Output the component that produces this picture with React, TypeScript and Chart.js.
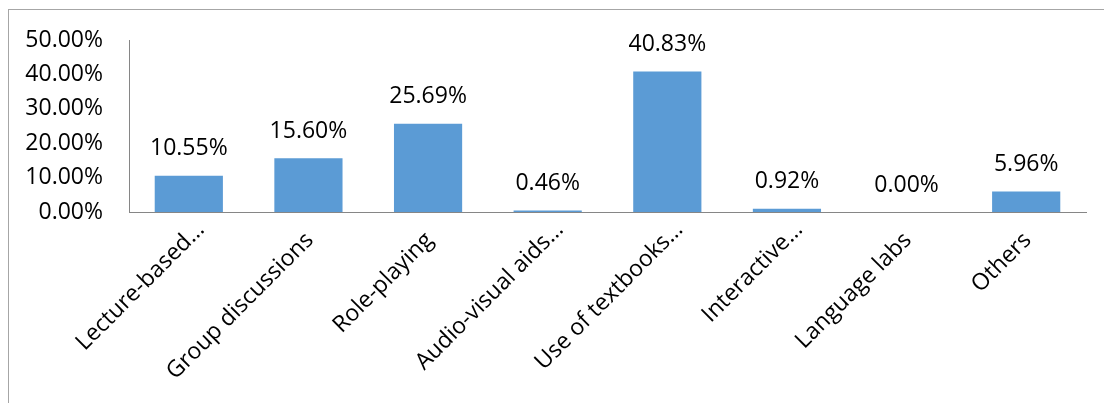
import React, { useEffect, useRef } from "react";
import { Chart, registerables } from "chart.js";

Chart.register(...registerables);

const categories = [
  "Lecture-based…",
  "Group discussions",
  "Role-playing",
  "Audio-visual aids…",
  "Use of textbooks…",
  "Interactive…",
  "Language labs",
  "Others",
];
const percentages = [10.55, 15.6, 25.69, 0.46, 40.83, 0.92, 0.0, 5.96];
const yMax = 50;
const yStep = 10;

const FONT = "'Open Sans', 'Noto Sans', sans-serif";
const FS = 23;

const valueLabels = {
  id: "valueLabels",
  afterDatasetsDraw(chart: any) {
    const ctx = chart.ctx;
    const meta = chart.getDatasetMeta(0);
    ctx.save();
    ctx.font = `${FS}px ${FONT}`;
    ctx.fillStyle = "#000000";
    ctx.textAlign = "center";
    ctx.textBaseline = "middle";
    meta.data.forEach((el: any, i: number) => {
      ctx.fillText(percentages[i].toFixed(2) + "%", el.x, el.y - 27);
    });
    ctx.restore();
  },
};

// Rotated category labels, drawn like Excel (truncated labels sit a little further out)
const categoryLabels = {
  id: "categoryLabels",
  afterDraw(chart: any) {
    const ctx = chart.ctx;
    const xs = chart.scales.x;
    ctx.save();
    ctx.font = `${FS}px ${FONT}`;
    ctx.fillStyle = "#000000";
    ctx.textAlign = "right";
    ctx.textBaseline = "middle";
    categories.forEach((label, i) => {
      const x = xs.getPixelForValue(i);
      ctx.save();
      ctx.translate(x + 12, xs.top + 14);
      ctx.rotate(-Math.PI / 4);
      const shift = label.endsWith("…") ? 0 : -15;
      ctx.fillText(label, shift, 0);
      ctx.restore();
    });
    ctx.restore();
  },
};

export default function App() {
  const ref = useRef<HTMLCanvasElement>(null);
  useEffect(() => {
    if (!ref.current) return;
    const chart = new Chart(ref.current, {
      type: "bar",
      data: {
        labels: categories,
        datasets: [
          {
            data: percentages,
            backgroundColor: "#5B9BD5",
            borderWidth: 0,
            barPercentage: 1,
            categoryPercentage: 0.57,
          },
        ],
      },
      options: {
        animation: false,
        responsive: false,
        layout: { padding: { top: 40, right: 18, left: 0, bottom: 0 } },
        plugins: { legend: { display: false }, tooltip: { enabled: false } },
        scales: {
          x: {
            grid: { display: false, drawTicks: false },
            border: { display: true, color: "#868686", width: 1 },
            ticks: { display: false, autoSkip: false },
            afterFit: (s: any) => {
              s.height = 191;
            },
          },
          y: {
            min: 0,
            max: yMax,
            grid: { display: false, drawTicks: false },
            border: { display: true, color: "#868686", width: 1 },
            ticks: {
              stepSize: yStep,
              color: "#000000",
              font: { family: FONT, size: FS },
              padding: 26,
              callback: (v: any) => Number(v).toFixed(2) + "%",
            },
            afterFit: (s: any) => {
              s.width = 129;
            },
          },
        },
      },
      plugins: [valueLabels, categoryLabels],
    });
    return () => chart.destroy();
  }, []);
  return (
    <div style={{ position: "fixed", left: 0, top: 0, width: 1104, height: 403, background: "#fff", overflow: "hidden" }}>
      <div
        style={{
          position: "absolute",
          left: 8,
          top: 9,
          width: 1200,
          height: 500,
          border: "1px solid #a6a6a6",
        }}
      />
      <canvas ref={ref} width={1104} height={403} style={{ position: "absolute", left: 0, top: 0 }} />
    </div>
  );
}
